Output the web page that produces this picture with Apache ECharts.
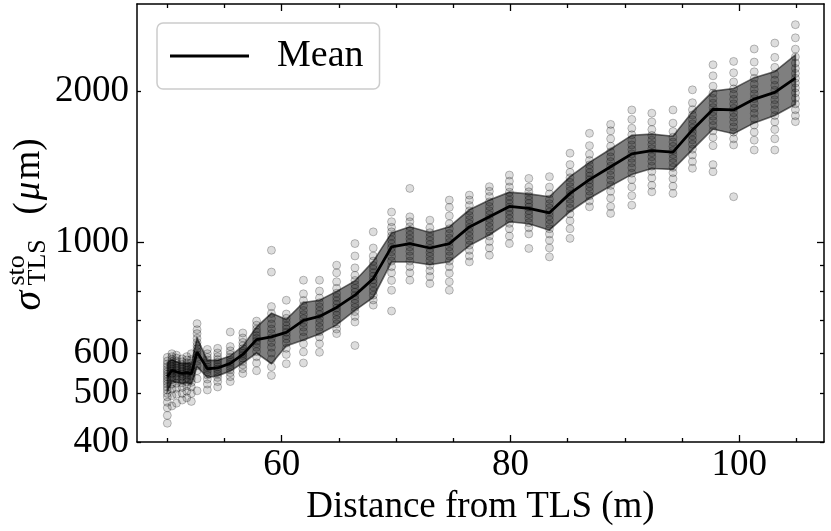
<!DOCTYPE html>
<html lang="en">
<head>
<meta charset="UTF-8">
<title>sigma sto vs distance</title>
<script src="https://cdn.jsdelivr.net/npm/echarts@6/dist/echarts.min.js"></script>
<style>
    html, body { margin: 0; padding: 0; background: #fff; }
    #chart { width: 831px; height: 531px; }
</style>
</head>
<body>
<div id="chart"></div>
<script>
    // distance of each scan position (m)
    var dist = [50.0, 50.4, 50.8, 51.3, 51.7, 52.1, 52.6, 53.5, 54.4, 55.5,
        56.6, 57.8, 59.1, 60.4, 61.9, 63.3, 64.8, 66.4, 68.0, 69.6,
        71.2, 72.95, 74.65, 76.4, 78.15, 79.9, 81.6, 83.4, 85.2, 86.9,
        88.75, 90.6, 92.35, 94.2, 95.9, 97.7, 99.5, 101.3, 103.1, 104.9];

    // mean and std of sigma_sto (um) per position
    var meanVals = [540, 556, 552, 548, 550, 547, 605, 560, 562, 574,
        598, 640, 648, 662, 699, 712, 742, 785, 847, 980,
        995, 975, 995, 1074, 1125, 1180, 1170, 1146, 1253, 1335,
        1416, 1502, 1525, 1514, 1677, 1844, 1838, 1932, 1992, 2127];
    var stdVals = [35, 28, 26, 25, 25, 25, 40, 22, 20, 20,
        23, 38, 75, 40, 60, 55, 57, 53, 70, 65,
        80, 72, 80, 88, 90, 80, 80, 88, 100, 110,
        120, 135, 120, 115, 145, 160, 190, 200, 200, 240];

    // individual realisations per position (um)
    var points = [
        [436, 452, 468, 480, 492, 500, 508, 515, 522, 528, 534, 540, 546, 552, 558, 565, 572, 580, 590],
        [472, 495, 510, 522, 532, 540, 548, 554, 560, 566, 572, 578, 585, 592, 600],
        [478, 498, 512, 524, 534, 542, 549, 555, 561, 567, 574, 580, 588, 596],
        [485, 500, 514, 525, 534, 541, 547, 553, 559, 565, 571, 578, 586],
        [490, 505, 518, 528, 537, 544, 550, 556, 562, 568, 575, 583, 592],
        [482, 500, 515, 526, 535, 542, 548, 554, 560, 567, 575, 584, 600],
        [506, 535, 555, 568, 580, 590, 598, 606, 614, 622, 632, 644, 658, 670, 689],
        [508, 522, 534, 544, 552, 558, 564, 570, 576, 583, 590, 600, 612],
        [515, 528, 538, 546, 553, 559, 565, 571, 577, 584, 592, 602, 615],
        [528, 540, 550, 558, 565, 571, 577, 583, 590, 598, 608, 620, 663],
        [548, 560, 570, 580, 588, 595, 601, 607, 614, 622, 632, 645, 660],
        [555, 575, 592, 606, 618, 628, 636, 644, 652, 662, 672, 684, 697],
        [543, 565, 585, 602, 618, 632, 645, 658, 672, 688, 705, 722, 745, 873, 965],
        [573, 598, 615, 630, 642, 652, 662, 672, 682, 694, 706, 720, 767],
        [575, 605, 628, 648, 664, 678, 692, 705, 718, 732, 748, 766, 790, 841],
        [604, 628, 648, 664, 678, 692, 705, 718, 730, 744, 758, 775, 800, 841],
        [658, 672, 688, 702, 716, 728, 740, 752, 765, 778, 792, 810, 835, 870, 901],
        [623, 694, 712, 728, 742, 756, 770, 783, 796, 810, 824, 840, 860, 890, 940, 995],
        [750, 768, 785, 800, 815, 830, 843, 856, 870, 885, 900, 918, 940, 975, 1050],
        [730, 803, 840, 870, 895, 918, 938, 958, 976, 994, 1012, 1030, 1050, 1072, 1100, 1150],
        [841, 870, 895, 918, 940, 960, 980, 998, 1016, 1035, 1055, 1075, 1100, 1125, 1282],
        [828, 855, 878, 900, 920, 938, 955, 972, 990, 1008, 1026, 1046, 1070, 1108],
        [803, 835, 868, 895, 918, 940, 960, 980, 1000, 1020, 1042, 1065, 1090, 1130, 1175, 1215],
        [915, 940, 965, 988, 1010, 1030, 1050, 1070, 1090, 1110, 1132, 1156, 1185, 1215, 1243],
        [943, 975, 1005, 1030, 1052, 1074, 1095, 1116, 1136, 1157, 1180, 1205, 1235, 1265, 1292],
        [995, 1030, 1065, 1092, 1115, 1136, 1156, 1175, 1195, 1215, 1236, 1260, 1290, 1325, 1363],
        [973, 1040, 1070, 1095, 1118, 1138, 1158, 1177, 1196, 1216, 1238, 1262, 1290, 1342],
        [936, 975, 1010, 1040, 1065, 1088, 1110, 1130, 1150, 1172, 1195, 1220, 1250, 1290, 1353],
        [1019, 1065, 1105, 1140, 1170, 1196, 1220, 1244, 1268, 1292, 1318, 1346, 1380, 1430, 1507],
        [1178, 1210, 1240, 1266, 1290, 1312, 1334, 1356, 1378, 1402, 1428, 1458, 1500, 1560, 1651],
        [1143, 1180, 1225, 1265, 1300, 1332, 1362, 1392, 1420, 1450, 1482, 1516, 1556, 1610, 1670, 1720],
        [1187, 1240, 1290, 1335, 1375, 1410, 1442, 1472, 1502, 1532, 1565, 1600, 1640, 1690, 1760, 1838],
        [1262, 1300, 1345, 1385, 1420, 1452, 1482, 1510, 1538, 1568, 1600, 1635, 1680, 1740, 1811],
        [1253, 1295, 1340, 1378, 1412, 1442, 1470, 1498, 1526, 1555, 1586, 1622, 1665, 1730, 1838],
        [1406, 1450, 1495, 1535, 1570, 1602, 1632, 1662, 1692, 1724, 1758, 1796, 1840, 1900, 2016],
        [1384, 1430, 1560, 1620, 1670, 1712, 1750, 1786, 1822, 1858, 1896, 1938, 1985, 2050, 2150, 2262],
        [1234, 1565, 1610, 1660, 1700, 1740, 1778, 1815, 1852, 1890, 1930, 1975, 2025, 2090, 2180, 2297],
        [1529, 1600, 1660, 1715, 1765, 1810, 1852, 1894, 1936, 1978, 2022, 2070, 2125, 2190, 2290, 2432],
        [1529, 1610, 1680, 1740, 1792, 1840, 1884, 1926, 1968, 2012, 2058, 2108, 2165, 2235, 2340, 2499],
        [1742, 1790, 1840, 1890, 1940, 1988, 2034, 2080, 2126, 2174, 2224, 2280, 2345, 2430, 2560, 2719]
    ];

    var xTicksMajor = [60, 80, 100];
    var xTicksMinor = [50, 55, 65, 70, 75, 85, 90, 95, 105];
    var yLabelVals = [400, 500, 600, 1000, 2000];
    var yTicksMajor = [1000];
    var yTicksMinor = [400, 500, 600, 700, 800, 900, 2000, 3000];

    var FONT = '"Liberation Serif", "Times New Roman", serif';
    var lg = function (v) { return Math.log10(v); };

    // scatter points in (x, log10 y)
    var scatterData = [];
    for (var i = 0; i < dist.length; i++) {
        for (var j = 0; j < points[i].length; j++) {
            scatterData.push([dist[i], lg(points[i][j])]);
        }
    }
    var meanData = dist.map(function (d, i) { return [d, lg(meanVals[i])]; });

    // mean +/- std shaded band, one polygon
    function renderBand(params, api) {
        if (params.dataIndex !== 0) return null;
        var up = [], lo = [];
        for (var k = 0; k < dist.length; k++) {
            up.push(api.coord([dist[k], lg(meanVals[k] + stdVals[k])]));
            lo.unshift(api.coord([dist[k], lg(meanVals[k] - stdVals[k])]));
        }
        return {
            type: 'polygon',
            shape: { points: up.concat(lo) },
            style: { fill: 'rgba(0,0,0,0.5)', stroke: 'rgba(0,0,0,0.55)', lineWidth: 1.6 }
        };
    }

    function xAx(pos, ticks, len, withLine, withLabel) {
        return {
            type: 'value', position: pos, min: 47.35, max: 107.4,
            axisLine: { show: withLine, onZero: false, lineStyle: { color: '#000', width: 1.5 } },
            axisTick: { inside: true, length: len, customValues: ticks, lineStyle: { color: '#000', width: 1.3 } },
            axisLabel: withLabel ? { customValues: ticks, fontFamily: FONT, fontSize: 37, color: '#000', margin: 5 } : { show: false },
            splitLine: { show: false }
        };
    }
    function yAx(pos, ticks, len, withLine, withLabel) {
        return {
            type: 'value', position: pos, min: lg(400), max: lg(2990),
            axisLine: { show: withLine, onZero: false, lineStyle: { color: '#000', width: 1.5 } },
            axisTick: { inside: true, length: len, customValues: ticks.map(lg), lineStyle: { color: '#000', width: 1.3 } },
            axisLabel: withLabel ? {
                customValues: yLabelVals.map(lg), fontFamily: FONT, fontSize: 37, color: '#000', margin: 8,
                formatter: function (v) { return String(Math.round(Math.pow(10, v))); }
            } : { show: false },
            splitLine: { show: false }
        };
    }

    var xBottom = xAx('bottom', xTicksMajor, 7, true, true);
    xBottom.name = 'Distance from TLS (m)';
    xBottom.nameLocation = 'middle';
    xBottom.nameGap = 44;
    xBottom.nameTextStyle = { fontFamily: FONT, fontSize: 37, color: '#000' };

    var myChart = echarts.init(document.getElementById('chart'));

    var option = {
        animation: false,
        backgroundColor: '#fff',
        grid: { left: 137, right: 7, top: 4, bottom: 89, containLabel: false },
        xAxis: [
            xBottom,
            xAx('bottom', xTicksMinor, 4, false, false),
            xAx('top', xTicksMajor, 7, true, false),
            xAx('top', xTicksMinor, 4, false, false)
        ],
        yAxis: [
            yAx('left', yTicksMajor, 7, true, true),
            yAx('left', yTicksMinor, 4, false, false),
            yAx('right', yTicksMajor, 7, true, false),
            yAx('right', yTicksMinor, 4, false, false)
        ],
        legend: {
            left: 157, top: 23,
            data: [{ name: 'Mean', icon: 'rect' }],
            itemWidth: 79, itemHeight: 3,
            padding: [14, 16, 14, 13],
            borderColor: '#cccccc', borderWidth: 1.5, borderRadius: 6,
            backgroundColor: 'rgba(255,255,255,0.8)',
            selectedMode: false,
            textStyle: { fontFamily: FONT, fontSize: 38, color: '#000', padding: [0, 0, 0, 23] }
        },
        graphic: [{
            type: 'group',
            x: 42, y: 222.5,
            rotation: Math.PI / 2,
            children: [
                { type: 'text', x: -88, y: -12.6, style: { text: 'σ', fontFamily: FONT, fontSize: 40, fontStyle: 'italic', fill: '#000', align: 'left', verticalAlign: 'middle' } },
                { type: 'text', x: -63, y: -24.5, style: { text: 'sto', fontFamily: FONT, fontSize: 26, fill: '#000', align: 'left', verticalAlign: 'middle' } },
                { type: 'text', x: -63, y: -3.5, style: { text: 'TLS', fontFamily: FONT, fontSize: 26, fill: '#000', align: 'left', verticalAlign: 'middle' } },
                { type: 'text', x: 8, y: -12.6, style: {
                    text: '{a|(}{b|μ}{a|m)}', fontFamily: FONT, fontSize: 37, fill: '#000', align: 'left', verticalAlign: 'middle',
                    rich: {
                        a: { fontFamily: FONT, fontSize: 37, fill: '#000' },
                        b: { fontFamily: FONT, fontSize: 37, fontStyle: 'italic', fill: '#000', padding: [0, 2, 0, 2] }
                    }
                } }
            ]
        }],
        series: [
            {
                name: 'points',
                type: 'scatter',
                data: scatterData,
                symbol: 'circle',
                symbolSize: 8,
                itemStyle: { color: 'rgba(0,0,0,0.17)', borderColor: 'rgba(0,0,0,0.3)', borderWidth: 1 },
                z: 2,
                silent: true
            },
            {
                name: 'band',
                type: 'custom',
                renderItem: renderBand,
                data: meanData,
                z: 3,
                silent: true
            },
            {
                name: 'Mean',
                type: 'line',
                data: meanData,
                color: '#000',
                symbol: 'none',
                lineStyle: { color: '#000', width: 2.8 },
                z: 4
            }
        ]
    };

    myChart.setOption(option);
</script>
</body>
</html>
